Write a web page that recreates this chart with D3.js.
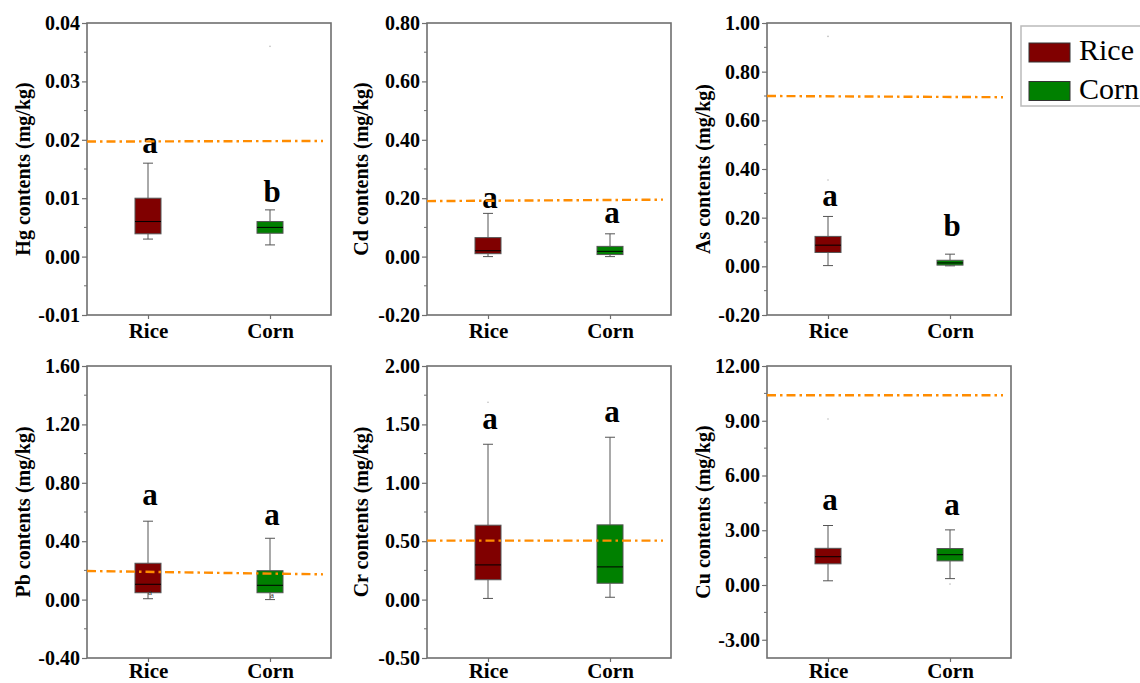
<!DOCTYPE html>
<html>
<head>
<meta charset="utf-8">
<script src="https://cdn.jsdelivr.net/npm/d3@7"></script>
<style>
  html, body { margin: 0; padding: 0; background: #fff; }
  svg { display: block; }
</style>
</head>
<body>
<svg id="chart"></svg>
<script>
// Metals shown, one panel each (row by row)
const metals = ["Hg", "Cd", "As", "Pb", "Cr", "Cu"];
const crops = ["Rice", "Corn"];

// y-axis ranges and major ticks per panel
const yDomains = [[-0.01, 0.04], [-0.2, 0.8], [-0.2, 1.0], [-0.4, 1.6], [-0.5, 2.0], [-4, 12]];
const majorTicks = [
  [-0.01, 0.0, 0.01, 0.02, 0.03, 0.04],
  [-0.2, 0.0, 0.2, 0.4, 0.6, 0.8],
  [-0.2, 0.0, 0.2, 0.4, 0.6, 0.8, 1.0],
  [-0.4, 0.0, 0.4, 0.8, 1.2, 1.6],
  [-0.5, 0.0, 0.5, 1.0, 1.5, 2.0],
  [-3, 0, 3, 6, 9, 12]
];

// box stats: [whisker low, Q1, median, Q3, whisker high]
const riceStats = [
  [0.003, 0.0039, 0.006, 0.010, 0.016],
  [0.0, 0.010, 0.020, 0.065, 0.148],
  [0.003, 0.057, 0.087, 0.123, 0.205],
  [0.006, 0.047, 0.105, 0.249, 0.537],
  [0.01, 0.17, 0.297, 0.637, 1.33],
  [0.23, 1.16, 1.55, 2.01, 3.26]
];
const cornStats = [
  [0.002, 0.004, 0.005, 0.006, 0.008],
  [0.0, 0.007, 0.018, 0.035, 0.078],
  [0.002, 0.005, 0.014, 0.025, 0.05],
  [0.0, 0.047, 0.098, 0.198, 0.42],
  [0.02, 0.14, 0.28, 0.64, 1.39],
  [0.35, 1.32, 1.66, 2.0, 3.02]
];

// outlier points
const riceOutliers = [[], [], [0.355, 0.945], [], [1.69], [9.1]];
const cornOutliers = [[0.036], [], [], [], [], [0.05]];

// small mean glyphs (Pb panel only)
const riceMeanGlyph = [null, null, null, 0.055, null, null];
const cornMeanGlyph = [null, null, null, 0.035, null, null];

// significance letters and their heights (data units)
const riceLetters = ["a", "a", "a", "a", "a", "a"];
const cornLetters = ["b", "a", "b", "a", "a", "a"];
const riceLetterY = [0.0178, 0.168, 0.25, 0.648, 1.46, 4.11];
const cornLetterY = [0.0094, 0.116, 0.126, 0.511, 1.52, 3.84];

// standard limit line, value at left and right end
const limitLines = [
  [0.0197, 0.0198],
  [0.19, 0.195],
  [0.70, 0.695],
  [0.196, 0.173],
  [0.505, 0.505],
  [10.4, 10.4]
];

const cropColors = { Rice: "#800000", Corn: "#008000" };

const W = 1140, H = 683;
const svg = d3.select("#chart").attr("width", W).attr("height", H);
svg.append("rect").attr("width", W).attr("height", H).attr("fill", "#fff");

const colLeft = [87, 427, 767];
const rowTop = [23, 366];
const pw = 244, ph = 292;
const font = "'Liberation Serif', 'Times New Roman', serif";
const fmt = d => d.toFixed(2);

metals.forEach((metal, i) => {
  const row = Math.floor(i / 3);
  const g = svg.append("g")
    .attr("transform", `translate(${colLeft[i % 3]},${rowTop[row]})`);

  const x = d3.scalePoint().domain(crops).range([0, pw]).padding(0.5);
  const y = d3.scaleLinear().domain(yDomains[i]).range([ph, 0]);

  // minor ticks between majors
  const majors = majorTicks[i];
  const minors = d3.pairs(majors).map(([a, b]) => (a + b) / 2);

  // left axis
  const yAxis = g.append("g")
    .call(d3.axisLeft(y).tickValues(majors).tickFormat(fmt).tickSize(5).tickSizeOuter(0));
  yAxis.select(".domain").remove();
  yAxis.selectAll("line").attr("stroke", "#6f6f6f").attr("stroke-width", 1.2);
  yAxis.selectAll("text")
    .attr("x", -7)
    .style("font-family", font)
    .style("font-weight", "bold")
    .style("font-size", "20px")
    .attr("fill", "#000");

  g.append("g").selectAll("line")
    .data(minors)
    .join("line")
    .attr("x1", -3).attr("x2", 0)
    .attr("y1", d => y(d)).attr("y2", d => y(d))
    .attr("stroke", "#6f6f6f").attr("stroke-width", 1);

  // bottom axis
  const xAxis = g.append("g")
    .attr("transform", `translate(0,${ph})`)
    .call(d3.axisBottom(x).tickSize(4).tickSizeOuter(0));
  xAxis.select(".domain").remove();
  xAxis.selectAll("line").attr("stroke", "#6f6f6f").attr("stroke-width", 1.2);
  xAxis.selectAll("text")
    .attr("y", row === 0 ? 8 : 5)
    .style("font-family", font)
    .style("font-weight", "bold")
    .style("font-size", "21px")
    .attr("fill", "#000");

  // frame
  g.append("rect")
    .attr("width", pw).attr("height", ph)
    .attr("fill", "none")
    .attr("stroke", "#6f6f6f")
    .attr("stroke-width", 1.6);

  // y title
  g.append("text")
    .attr("transform", `translate(${i % 3 === 1 ? -66 : -64},${ph / 2}) rotate(-90)`)
    .attr("text-anchor", "middle")
    .attr("dy", "0.35em")
    .style("font-family", font)
    .style("font-weight", "bold")
    .style("font-size", "20px")
    .text(`${metal} contents (mg/kg)`);

  const boxW = 26, capW = 10;
  const sets = [
    { crop: "Rice", s: riceStats[i], out: riceOutliers[i], glyph: riceMeanGlyph[i], letter: riceLetters[i], ly: riceLetterY[i] },
    { crop: "Corn", s: cornStats[i], out: cornOutliers[i], glyph: cornMeanGlyph[i], letter: cornLetters[i], ly: cornLetterY[i] }
  ];

  sets.forEach(d => {
    const cx = x(d.crop);
    const [lo, q1, med, q3, hi] = d.s;
    const bg = g.append("g");

    // whiskers
    bg.append("line")
      .attr("x1", cx).attr("x2", cx).attr("y1", y(hi)).attr("y2", y(q3))
      .attr("stroke", "#555").attr("stroke-width", 1);
    bg.append("line")
      .attr("x1", cx).attr("x2", cx).attr("y1", y(q1)).attr("y2", y(lo))
      .attr("stroke", "#555").attr("stroke-width", 1);
    [hi, lo].forEach(v => {
      bg.append("line")
        .attr("x1", cx - capW / 2).attr("x2", cx + capW / 2)
        .attr("y1", y(v)).attr("y2", y(v))
        .attr("stroke", "#555").attr("stroke-width", 1);
    });

    // box
    bg.append("rect")
      .attr("x", cx - boxW / 2).attr("width", boxW)
      .attr("y", y(q3)).attr("height", Math.max(1, y(q1) - y(q3)))
      .attr("fill", cropColors[d.crop])
      .attr("stroke", "#555").attr("stroke-width", 1);
    bg.append("line")
      .attr("x1", cx - boxW / 2).attr("x2", cx + boxW / 2)
      .attr("y1", y(med)).attr("y2", y(med))
      .attr("stroke", "#000").attr("stroke-width", 1);

    // outliers
    bg.selectAll("circle.out")
      .data(d.out)
      .join("circle")
      .attr("class", "out")
      .attr("cx", cx).attr("cy", v => y(v)).attr("r", 0.8)
      .attr("fill", "#bbb");

    if (d.glyph !== null) {
      bg.append("text")
        .attr("x", cx + 2).attr("y", y(d.glyph))
        .attr("text-anchor", "middle")
        .attr("dy", "0.35em")
        .style("font-family", font)
        .style("font-size", "9px")
        .attr("fill", "#333")
        .text("a");
    }

    // letter
    g.append("text")
      .attr("x", cx + 2).attr("y", y(d.ly))
      .attr("text-anchor", "middle")
      .style("font-family", font)
      .style("font-weight", "bold")
      .style("font-size", "31px")
      .text(d.letter);
  });

  // limit line
  const lim = limitLines[i];
  g.append("path")
    .datum([[0, lim[0]], [pw - 8, lim[1]]])
    .attr("d", d3.line().x(p => p[0]).y(p => y(p[1])))
    .attr("fill", "none")
    .attr("stroke", "#ff8c00")
    .attr("stroke-width", 2.4)
    .attr("stroke-dasharray", "9,4,2.5,4");
});

// legend
const legend = svg.append("g").attr("transform", "translate(1021,26)");
legend.append("rect")
  .attr("width", 140).attr("height", 80)
  .attr("fill", "#fff")
  .attr("stroke", "#bbb").attr("stroke-width", 1.5);
crops.forEach((c, k) => {
  const item = legend.append("g").attr("transform", `translate(8,${17 + k * 38.5})`);
  item.append("rect")
    .attr("width", 41).attr("height", 19)
    .attr("fill", cropColors[c])
    .attr("stroke", "#333").attr("stroke-width", 1);
  item.append("text")
    .attr("x", 50).attr("y", 17)
    .style("font-family", font)
    .style("font-size", "30px")
    .text(c);
});
</script>
</body>
</html>
